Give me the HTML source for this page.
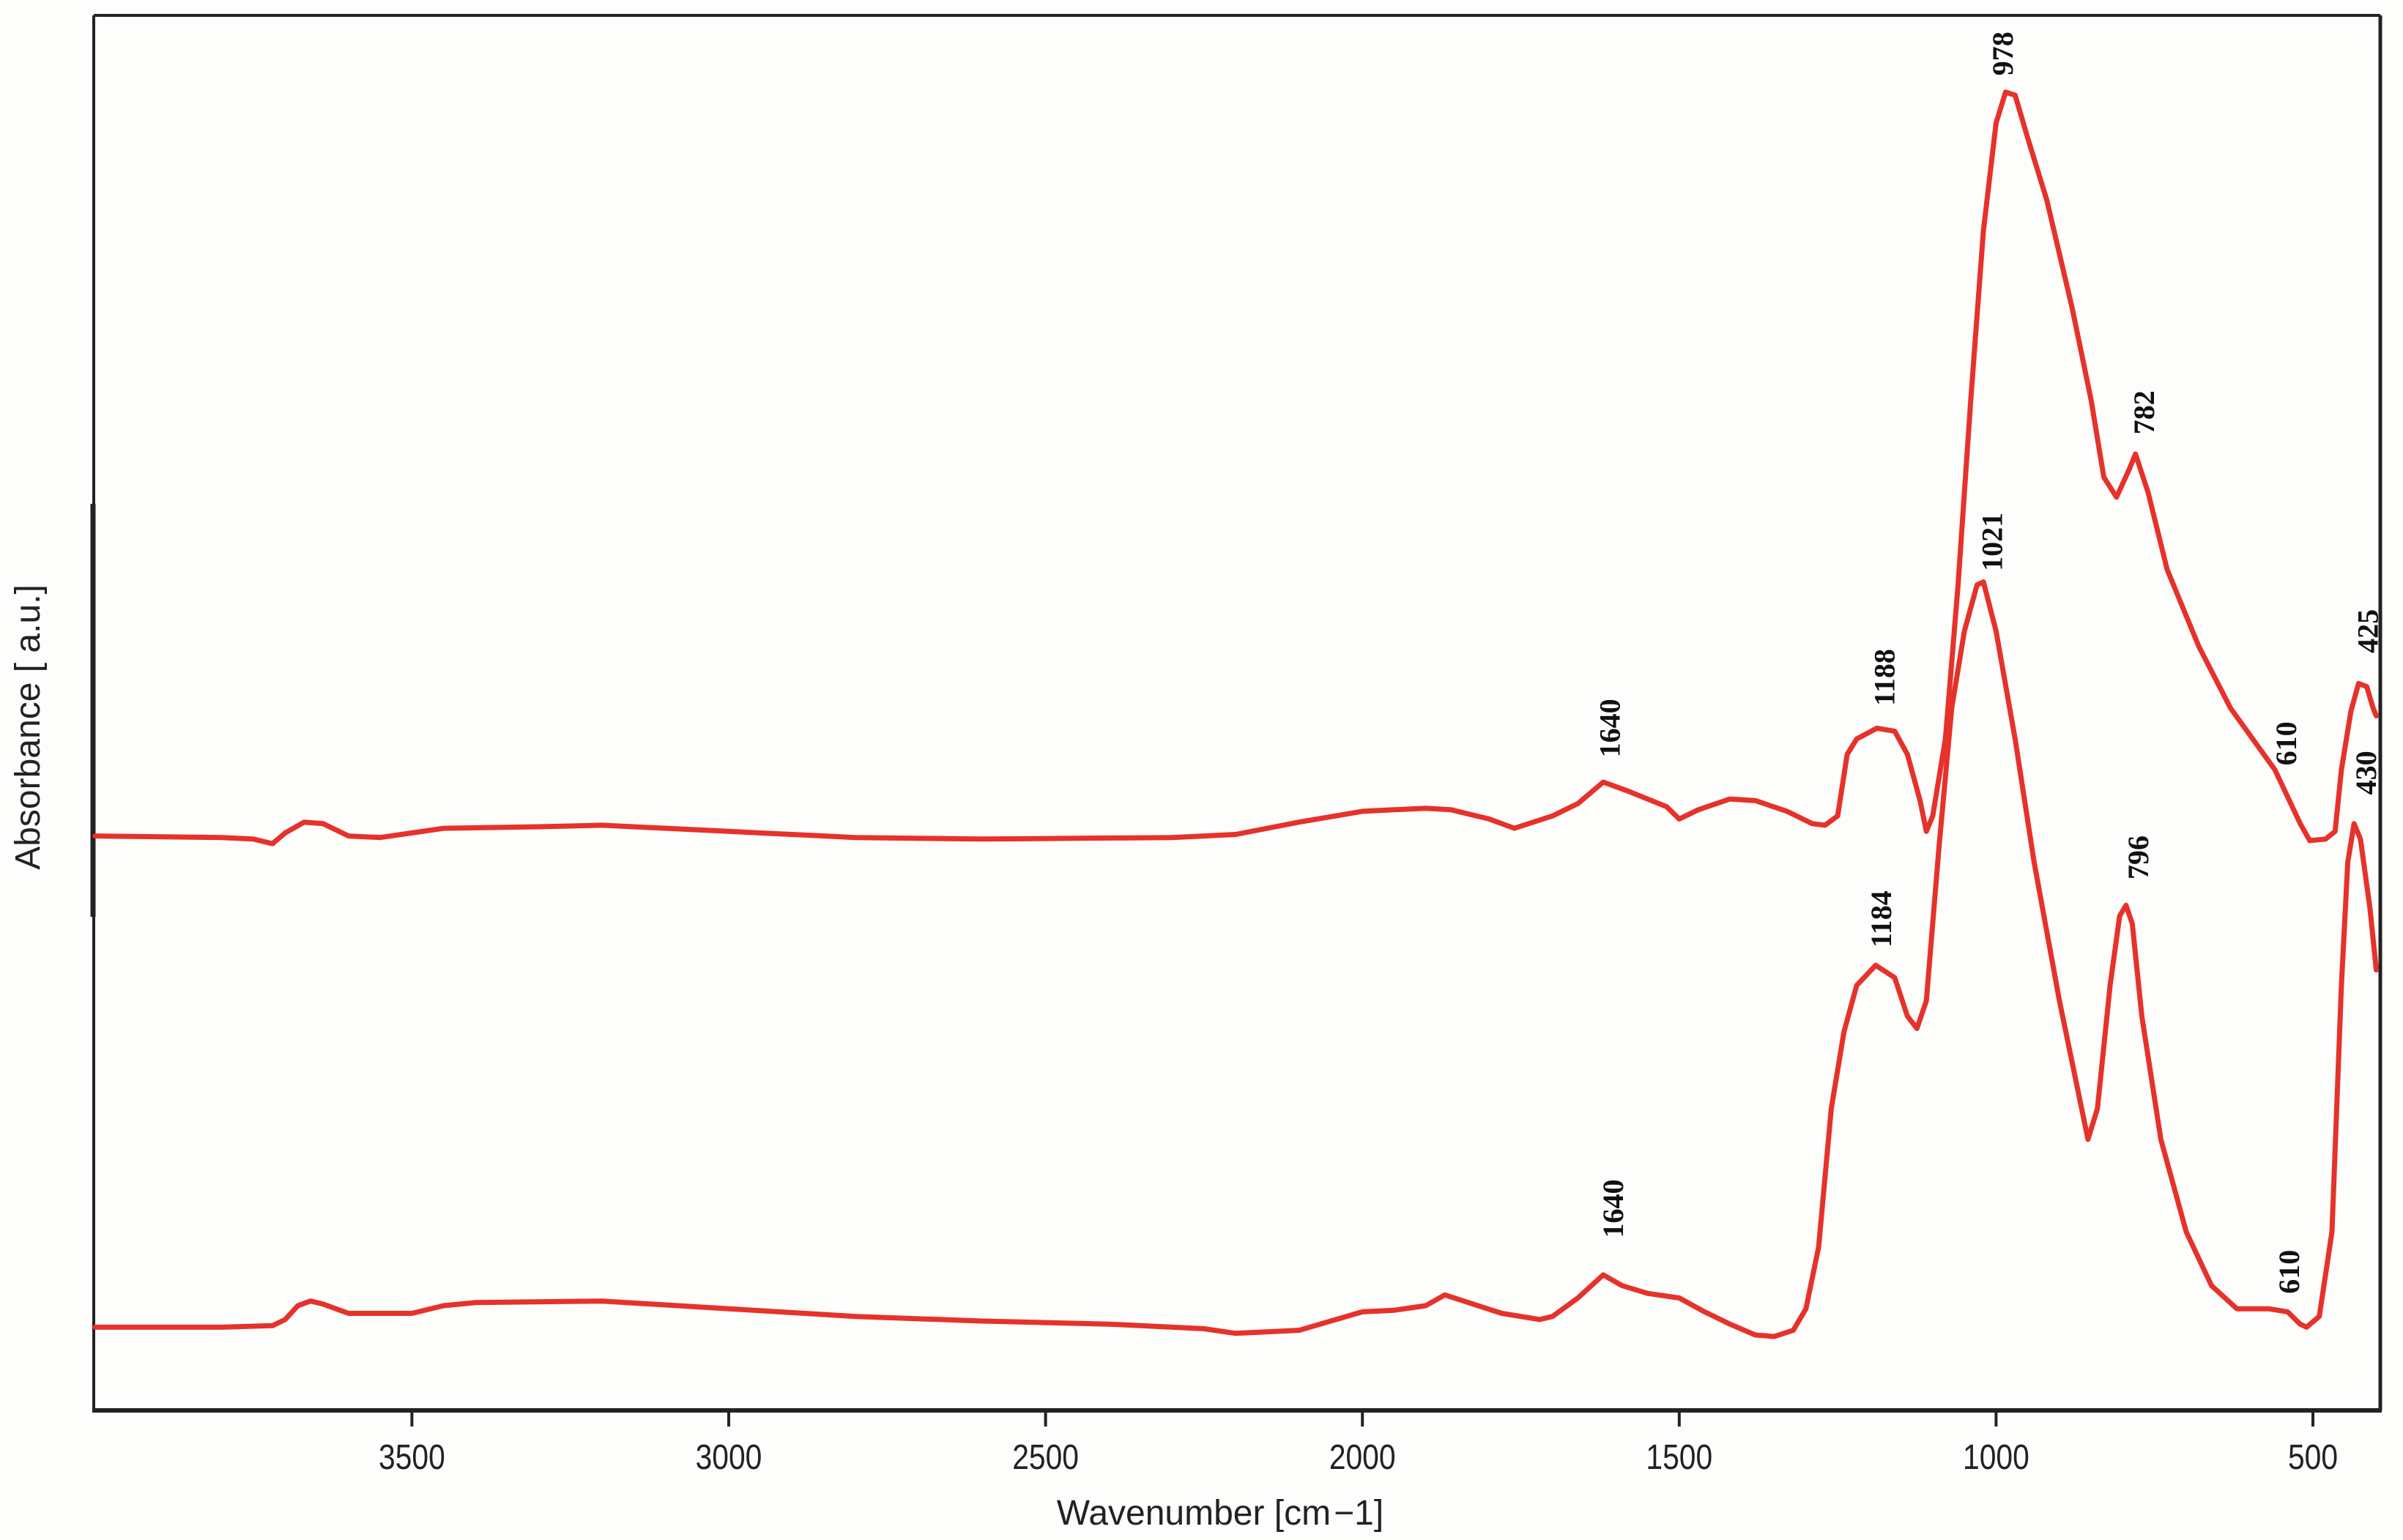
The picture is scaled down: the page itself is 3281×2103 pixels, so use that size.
<!DOCTYPE html>
<html><head><meta charset="utf-8"><style>
html,body{margin:0;padding:0;background:#fdfdfb;}
svg{display:block;}
</style></head><body>
<svg id="chart" width="3281" height="2103" viewBox="0 0 3281 2103" xmlns="http://www.w3.org/2000/svg">
<rect x="0" y="0" width="3281" height="2103" fill="#fdfdfb"/>
<g id="frame"></g>
<g id="xaxis"></g>
<g id="series"></g>
<g id="labels"></g>
<text x="1666" y="2082" text-anchor="middle" font-family="Liberation Sans, sans-serif" font-size="48" fill="#222">Wavenumber [cm<tspan dx="4">−1</tspan>]</text>
<text transform="translate(54,993) rotate(-90)" text-anchor="middle" font-family="Liberation Sans, sans-serif" font-size="48" fill="#222">Absorbance [ a.u.]</text>
</svg>
<script>
const xTicks = [3500, 3000, 2500, 2000, 1500, 1000, 500];
const topWn = [4000,3800,3750,3720,3700,3670,3640,3600,3550,3450,3300,3200,3000,2800,2600,2300,2200,2100,2000,1900,1860,1800,1760,1700,1660,1620,1580,1520,1500,1470,1420,1380,1330,1290,1270,1250,1235,1220,1188,1160,1140,1120,1110,1100,1080,1060,1040,1020,1000,985,970,950,920,880,850,830,810,790,780,760,730,680,630,560,520,505,480,465,455,440,428,415,405,400];
const topAbs = [373,372,371,368,375,382,381,373,372,378,379,380,376,372,371,372,374,382,389,391,390,384,378,386,394,408,402,392,384,390,397,396,389,381,380,386,426,436,443,441,426,396,376,386,436,536,656,766,836,856,854,826,786,716,656,606,593,611,621,596,546,496,456,416,381,370,371,376,416,454,472,470,456,451];
const botWn = [4000,3800,3720,3700,3680,3660,3640,3600,3500,3450,3400,3200,3000,2800,2600,2400,2250,2200,2100,2050,2000,1950,1900,1870,1840,1780,1720,1700,1660,1620,1590,1550,1500,1460,1420,1380,1350,1320,1300,1280,1260,1240,1220,1190,1160,1140,1125,1110,1090,1070,1050,1030,1020,1000,970,940,900,870,855,840,820,805,795,785,770,740,700,660,620,570,540,520,510,490,470,455,445,435,425,410,400];
const botAbs = [54,54,55,59,68,71,69,63,63,68,70,71,66,61,58,56,53,50,52,58,64,65,68,75,71,63,59,61,73,88,81,76,73,64,56,49,48,52,66,106,196,246,276,289,281,256,248,266,366,456,506,536,538,506,436,356,266,206,176,196,276,321,328,316,256,176,116,81,66,66,64,56,54,61,116,276,356,381,371,326,286];
const peakLabels = ["978","782","1188","1640","610","425","1021","796","1184","1640","610","430"];
const peakLabelWn = [990,767,1177,1610,543,414,1007,776,1182,1605,538,417];
const peakLabelAbs = [881,648,476,443,433,506,564,359,319,131,90,414];

const X0=128, X1=3250, Y0=21, Y1=1926;
function xs(w){ return 3158 + (500 - w) * (432.6/500); }
function ys(a){ return Y1 - a * 2.103; }
const NS="http://www.w3.org/2000/svg";
function mk(tag, parent, attrs){ const e=document.createElementNS(NS,tag); for(const k in attrs) e.setAttribute(k,attrs[k]); parent.appendChild(e); return e; }

const frame=document.getElementById('frame');
let e;
e=mk('line',frame,{x1:X0,y1:Y0,x2:X1,y2:Y0,stroke:'#222','stroke-width':4});
 
e=mk('line',frame,{x1:X1,y1:Y0,x2:X1,y2:Y1,stroke:'#222','stroke-width':5});
 
e=mk('line',frame,{x1:X0,y1:Y0,x2:X0,y2:Y1,stroke:'#222','stroke-width':4});
 
e=mk('line',frame,{x1:X0-1,y1:688,x2:X0-1,y2:1252,stroke:'#222','stroke-width':7});
 
e=mk('line',frame,{x1:X0-2,y1:Y1,x2:X1+2,y2:Y1,stroke:'#222','stroke-width':6});
 

const xaxis=document.getElementById('xaxis');
xTicks.forEach(t=>{
  const x=xs(t);
  const tk=mk('line',xaxis,{x1:x,y1:Y1,x2:x,y2:Y1+22,stroke:'#222','stroke-width':4});
  
  
  const tl=mk('text',xaxis,{x:x,y:Y1+80,'text-anchor':'middle','font-family':'Liberation Sans, sans-serif','font-size':48,fill:'#222',transform:`translate(${x},0) scale(0.85,1) translate(${-x},0)`});
  tl.textContent=t;
  
  
});

const series=document.getElementById('series');
function trace(wn,ab,name){
  const d=wn.map((w,i)=>(i?'L':'M')+xs(w).toFixed(1)+','+ys(ab[i]).toFixed(1)).join(' ');
  const p=mk('path',series,{d:d,fill:'none',stroke:'#e5322b','stroke-width':7,'stroke-linejoin':'round','stroke-linecap':'round'});
  
  
}
trace(topWn,topAbs,'upper-spectrum-line');
trace(botWn,botAbs,'lower-spectrum-line');

const labels=document.getElementById('labels');
peakLabels.forEach((s,i)=>{
  const x=xs(peakLabelWn[i]), y=ys(peakLabelAbs[i]);
  const t=mk('text',labels,{transform:`translate(${x+14},${y}) rotate(-90)`,'text-anchor':'middle','font-family':'Liberation Serif, serif','font-size':40,'font-weight':'bold',fill:'#111'});
  t.textContent=s;
  
  
});
</script>
</body></html>
